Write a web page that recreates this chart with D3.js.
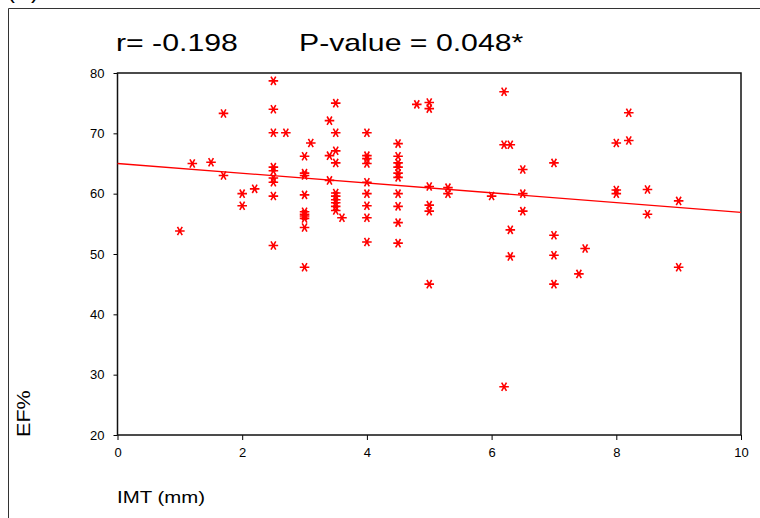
<!DOCTYPE html>
<html>
<head>
<meta charset="utf-8">
<script src="https://cdn.jsdelivr.net/npm/d3@7"></script>
<style>
  html, body { margin: 0; padding: 0; background: #fff; }
  svg { display: block; font-family: "Liberation Sans", Arial, sans-serif; }
</style>
</head>
<body>
<svg width="760" height="518"></svg>
<script>
// IMT (mm) and EF% for each patient
const imtValues = [
  1.0, 1.2, 1.5, 1.7, 1.7, 2.0, 2.0, 2.2,
  2.5, 2.5, 2.5, 2.5, 2.5, 2.5, 2.5, 2.5, 2.5,
  2.7, 3.0, 3.0, 3.0, 3.0, 3.0, 3.0, 3.0, 3.0, 3.0, 3.0,
  3.1, 3.4, 3.4, 3.4,
  3.5, 3.5, 3.5, 3.5, 3.5, 3.5, 3.5, 3.5, 3.5, 3.5, 3.6,
  4.0, 4.0, 4.0, 4.0, 4.0, 4.0, 4.0, 4.0, 4.0,
  4.5, 4.5, 4.5, 4.5, 4.5, 4.5, 4.5, 4.5, 4.5, 4.5,
  4.8, 5.0, 5.0, 5.0, 5.0, 5.0, 5.0, 5.3, 5.3,
  6.0, 6.2, 6.2, 6.2, 6.3, 6.3, 6.3, 6.5, 6.5, 6.5,
  7.0, 7.0, 7.0, 7.0, 7.4, 7.5, 8.0, 8.0, 8.0, 8.2, 8.2,
  8.5, 8.5, 9.0, 9.0
];
const efValues = [
  53.8, 65.0, 65.2, 73.3, 63.0, 60.0, 58.0, 60.8,
  78.7, 74.0, 70.1, 64.4, 63.8, 62.6, 61.9, 59.6, 51.4,
  70.1, 66.2, 63.4, 63.0, 59.8, 57.0, 56.6, 56.3, 55.9, 54.4, 47.8,
  68.4, 72.1, 66.3, 62.2,
  75.0, 70.1, 67.1, 65.1, 60.1, 59.6, 59.0, 58.5, 57.9, 57.2, 56.0,
  70.1, 66.3, 65.8, 65.0, 61.9, 60.0, 58.0, 56.0, 52.0,
  68.3, 66.2, 65.1, 64.4, 63.4, 62.7, 60.0, 57.9, 55.2, 51.8,
  74.8, 75.1, 74.1, 61.2, 58.1, 57.1, 45.0, 61.0, 60.0,
  59.6, 76.9, 68.1, 28.0, 68.1, 54.0, 49.6, 64.0, 60.0, 57.1,
  65.1, 53.1, 49.8, 45.0, 46.7, 50.9, 68.4, 60.6, 60.0, 73.4, 68.8,
  60.7, 56.6, 58.8, 47.8
];

// fitted line, end points
const fitX = [0, 10];
const fitY = [65.0, 56.9];

const xTicks = [0, 2, 4, 6, 8, 10];
const yTicks = [20, 30, 40, 50, 60, 70, 80];

const svg = d3.select("svg");
const plotLeft = 117.5, plotRight = 741, plotTop = 73, plotBottom = 435;

const x = d3.scaleLinear().domain([0, 10]).range([plotLeft, plotRight]);
const y = d3.scaleLinear().domain([20, 80]).range([plotBottom, plotTop]);

// outer panel frame (only top and left show)
svg.append("path")
    .attr("d", "M8.5,518V8.5H760")
    .attr("fill", "none")
    .attr("stroke", "#333")
    .attr("stroke-width", 1);

// panel letter, mostly cut off at the top
svg.append("text")
    .attr("x", 7)
    .attr("y", -2)
    .attr("font-size", 24)
    .text("(B)");

// title
const title = svg.append("g")
    .attr("transform", "translate(116,51) scale(1.26,1)")
    .attr("font-size", 24);
title.append("text").attr("x", 0).text("r= -0.198");
title.append("text").attr("x", (299 - 116) / 1.26).text("P-value = 0.048*");

// axes
svg.append("g")
    .attr("transform", `translate(0,${plotBottom})`)
    .call(d3.axisBottom(x).tickValues(xTicks).tickSize(5).tickPadding(8))
    .call(g => g.select(".domain").remove())
    .call(g => g.selectAll("text").attr("font-size", 13).attr("font-family", null).attr("fill", "#000"))
    .call(g => g.selectAll("line").attr("stroke", "#000"));

svg.append("g")
    .attr("transform", `translate(${plotLeft},0)`)
    .call(d3.axisLeft(y).tickValues(yTicks).tickSize(4).tickPadding(9))
    .call(g => g.select(".domain").remove())
    .call(g => g.selectAll("text").attr("font-size", 13).attr("font-family", null).attr("fill", "#000"))
    .call(g => g.selectAll("line").attr("stroke", "#000"));

// plot box
svg.append("rect")
    .attr("x", plotLeft)
    .attr("y", plotTop)
    .attr("width", plotRight - plotLeft)
    .attr("height", plotBottom - plotTop)
    .attr("fill", "none")
    .attr("stroke", "#111")
    .attr("stroke-width", 1.5);

// regression line
svg.append("line")
    .attr("x1", x(fitX[0])).attr("y1", y(fitY[0]))
    .attr("x2", x(fitX[1])).attr("y2", y(fitY[1]))
    .attr("stroke", "#ff0000")
    .attr("stroke-width", 1.3);

// points
const star = d3.symbol(d3.symbolAsterisk, 64);
svg.append("g")
    .attr("fill", "none")
    .attr("stroke", "#ff0000")
    .attr("stroke-width", 1.6)
  .selectAll("path")
  .data(imtValues.map((v, i) => [v, efValues[i]]))
  .join("path")
    .attr("transform", d => `translate(${x(d[0])},${y(d[1])}) rotate(90)`)
    .attr("d", star);

// axis titles
svg.append("text")
    .attr("transform", "translate(30,437) rotate(-90) scale(1.2,1)")
    .attr("font-size", 18)
    .text("EF%");

svg.append("text")
    .attr("transform", "translate(117,503) scale(1.2,1)")
    .attr("font-size", 17)
    .text("IMT (mm)");
</script>
</body>
</html>
